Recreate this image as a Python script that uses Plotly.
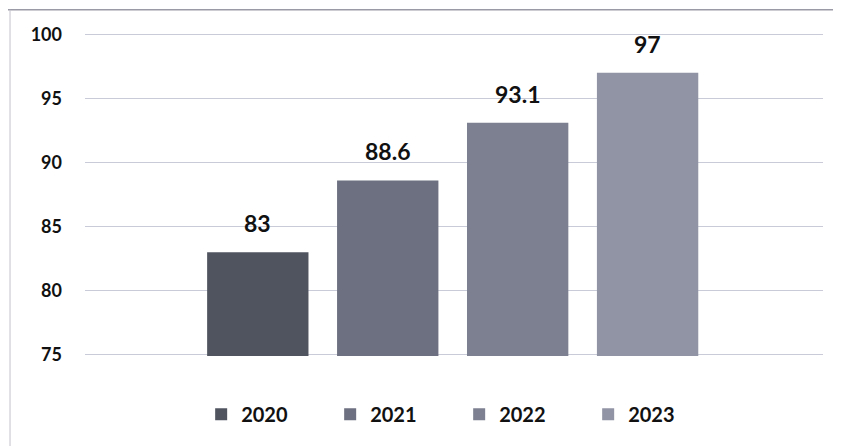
import plotly.graph_objects as go

# ── Data ──────────────────────────────────────────────────────────────────────
years = ["2020", "2021", "2022", "2023"]
values = [83, 88.6, 93.1, 97]
colors = ["#50545f", "#6d7080", "#7d8090", "#9194a4"]
y_ticks = [75, 80, 85, 90, 95, 100]

_FONT = dict(family="Lato, Open Sans, sans-serif", color="#111111")

fig = go.Figure()
for i, (yr, v, c) in enumerate(zip(years, values, colors)):
    fig.add_trace(go.Bar(
        x=[i], y=[v], name=yr,
        marker=dict(color=c, line=dict(width=0)),
        width=0.78,
    ))
    fig.add_annotation(
        x=i, y=v, text=f"{v:g}", showarrow=False,
        yanchor="bottom", yshift=13,
        font=dict(**_FONT, size=23, weight="bold"),
    )

# page body adds an 8px offset, so the figure is sized/margined to compensate
fig.update_layout(
    width=833, height=438,
    margin=dict(l=77, r=18, t=25, b=90),
    plot_bgcolor="white", paper_bgcolor="white",
    font=dict(**_FONT, size=17),
    barmode="overlay",
    legend=dict(
        orientation="h", x=0.507, xanchor="center", y=-0.18, yanchor="middle",
        font=dict(**_FONT, size=20, weight="bold"),
        entrywidth=84, itemwidth=30,
    ),
    xaxis=dict(range=[-1.33, 4.35], showticklabels=False, showgrid=False,
               zeroline=False, showline=False),
    yaxis=dict(range=[74.9, 100.1], tickvals=y_ticks, showgrid=True,
               gridcolor="#c9cbd8", gridwidth=1.3, zeroline=False,
               showline=False, ticks="", ticklabelstandoff=22,
               tickfont=dict(**_FONT, size=18, weight="bold")),
    shapes=[
        dict(type="line", xref="paper", yref="paper", x0=-0.11, x1=1.03,
             y0=1.072, y1=1.072, line=dict(color="#9a9aa6", width=1.5)),
        dict(type="line", xref="paper", yref="paper", x0=-0.1016, x1=-0.1016,
             y0=1.072, y1=-0.28, line=dict(color="#c4c4cc", width=1)),
    ],
)

fig.write_html("out.html")
